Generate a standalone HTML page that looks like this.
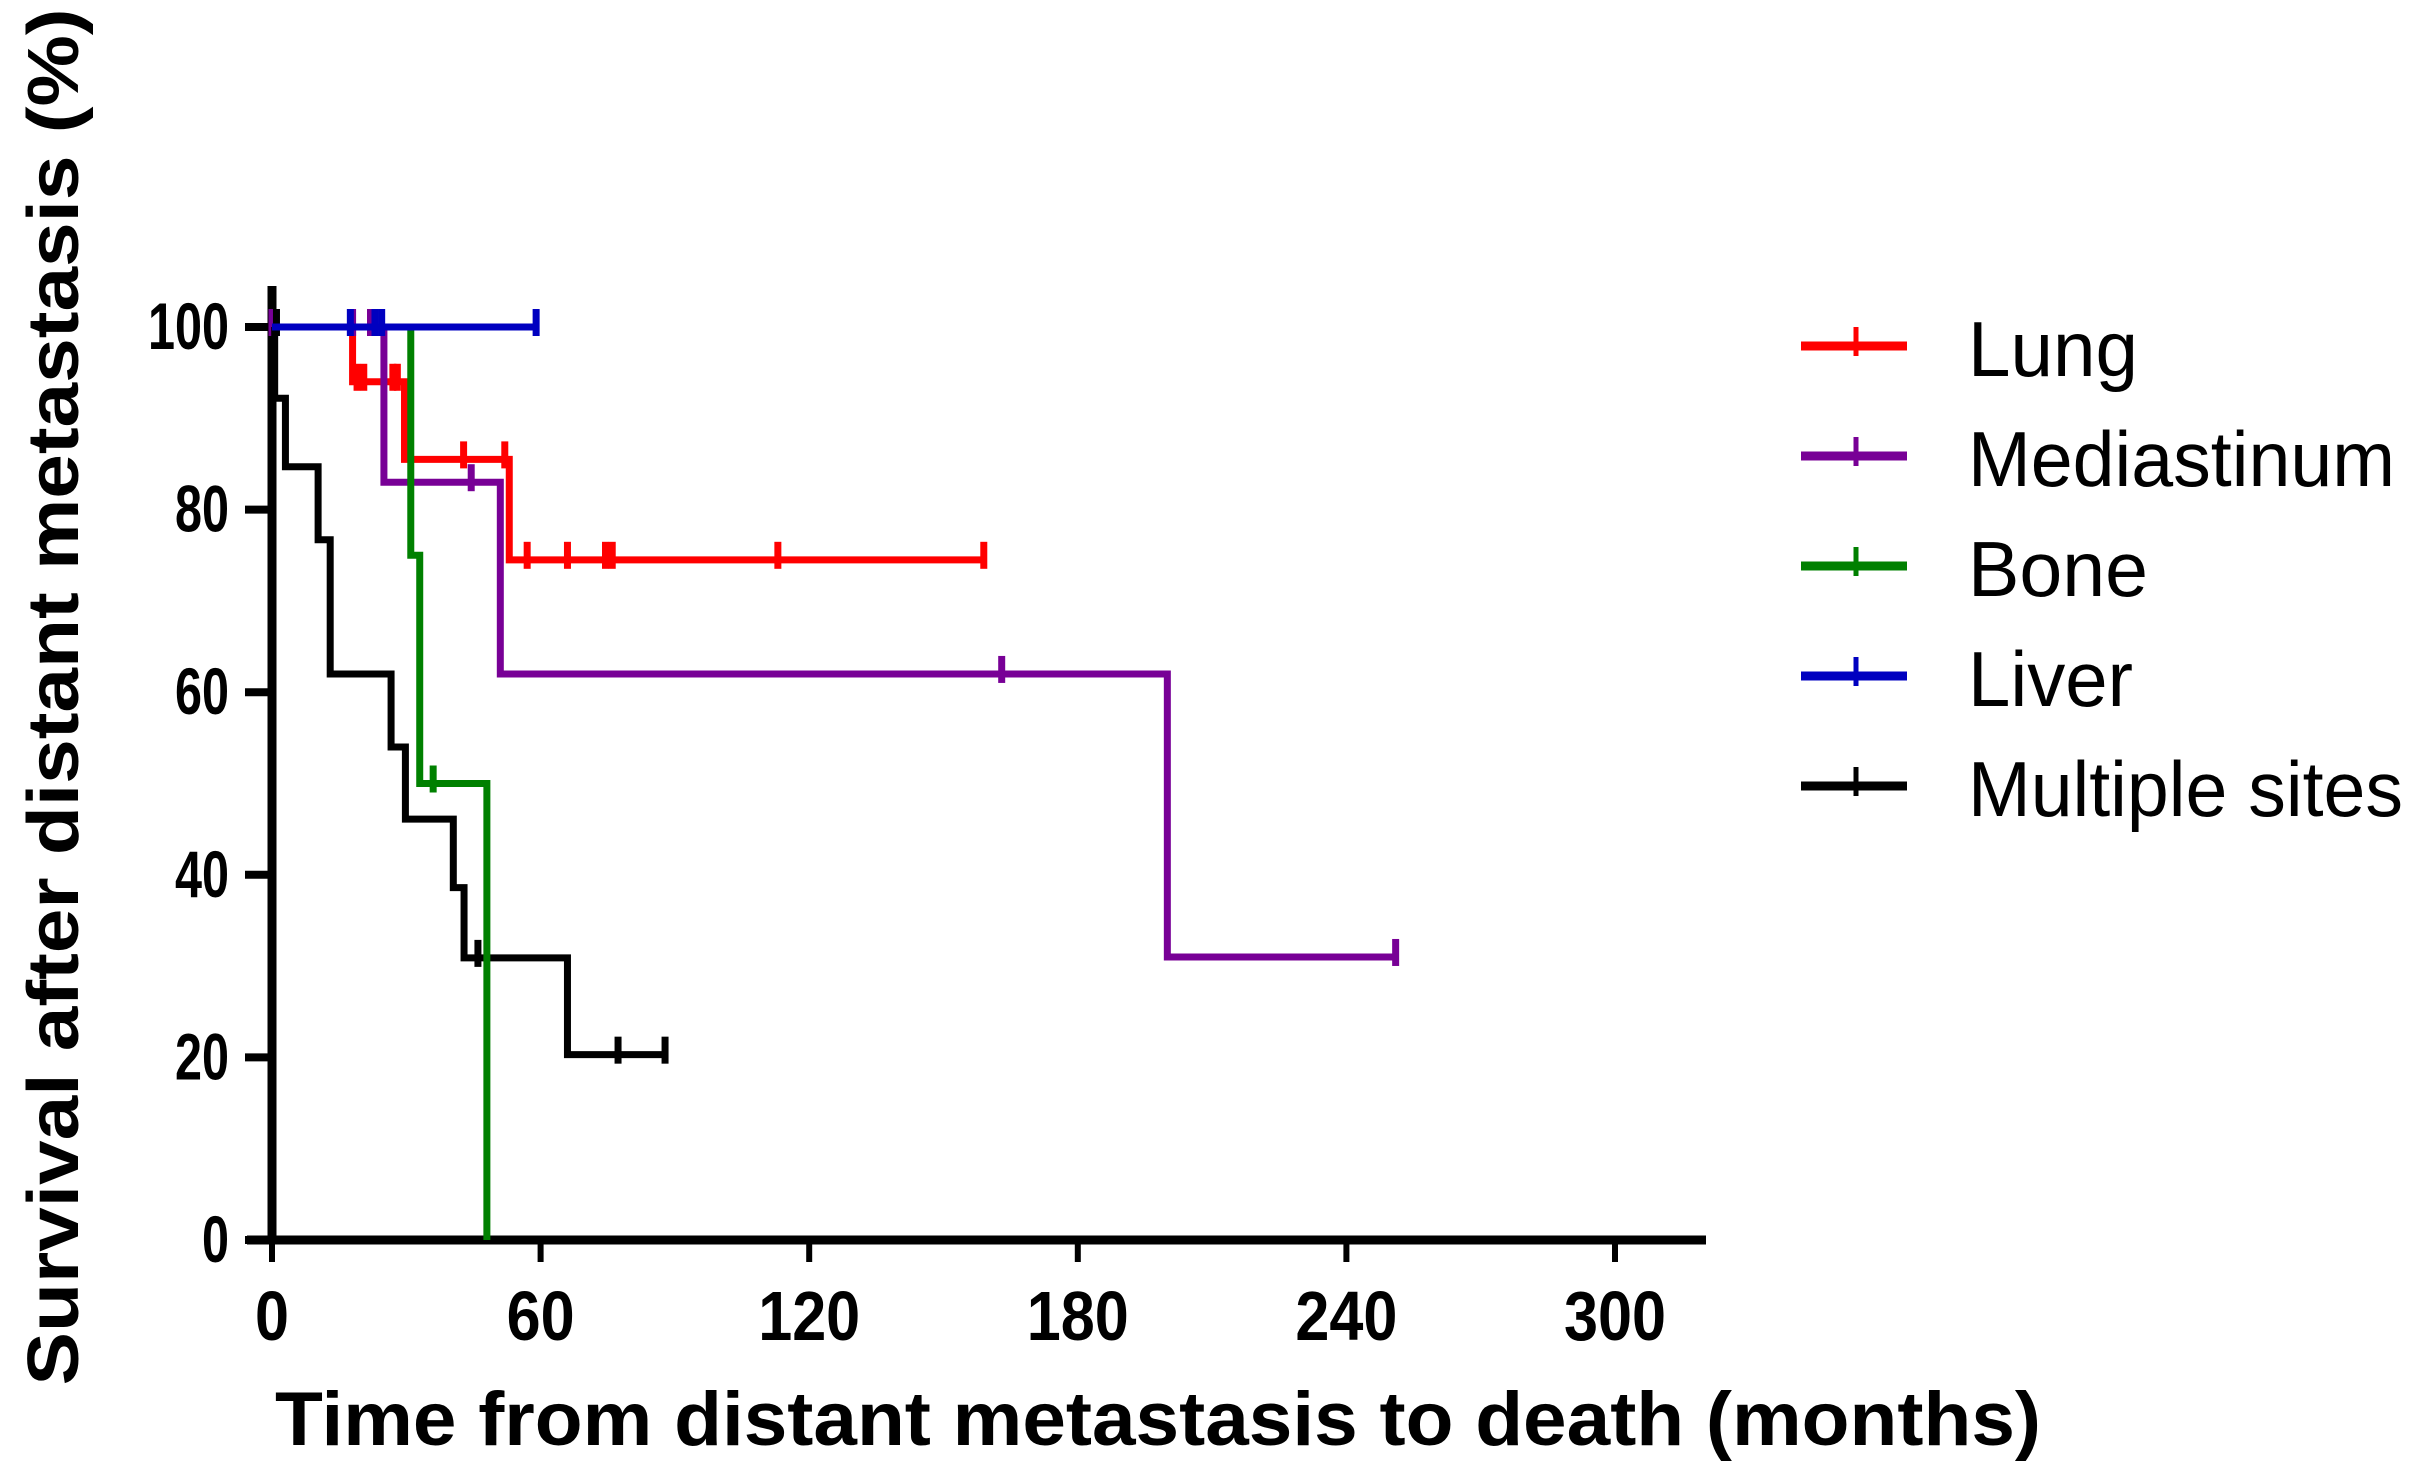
<!DOCTYPE html>
<html><head><meta charset="utf-8"><style>
html,body{margin:0;padding:0;background:#fff;width:2421px;height:1476px;overflow:hidden}
svg{display:block;font-family:"Liberation Sans",Arial,sans-serif}
</style></head><body>
<svg id="chart" width="2421" height="1476" viewBox="0 0 2421 1476" xmlns="http://www.w3.org/2000/svg">
<g id="axes"></g>
<g id="series"></g>
<g id="legend"></g>
<text x="1158" y="1445" text-anchor="middle" font-weight="bold" font-size="76" textLength="1766" lengthAdjust="spacingAndGlyphs">Time from distant metastasis to death (months)</text>
<text transform="translate(78,697) rotate(-90)" text-anchor="middle" font-weight="bold" font-size="72" textLength="1377" lengthAdjust="spacingAndGlyphs">Survival after distant metastasis (%)</text>
</svg>
<script>
const xTicks = [0, 60, 120, 180, 240, 300];
const yTicks = [0, 20, 40, 60, 80, 100];
const seriesNames = ["Lung", "Mediastinum", "Bone", "Liver", "Multiple sites"];
const seriesColors = ["#ff0000", "#780096", "#008000", "#0000c0", "#000000"];
// step curves: [time, survival] change points; last point = end of follow-up
const lungSteps = [[0,100],[18,94],[29.6,85.5],[53,74.5],[159,74.5]];
const lungCensor = [[19,94],[20.5,94],[27,94],[28,94],[42.8,85.5],[52,85.5],[57,74.5],[66,74.5],[74.5,74.5],[76,74.5],[113,74.5],[159,74.5]];
const medSteps = [[0,100],[25,83],[51,62],[200,31],[251,31]];
const medCensor = [[0,100],[18,100],[22,100],[44.5,83],[163,62],[251,31]];
const boneSteps = [[0,100],[31,75],[33,50],[48,0],[48,0]];
const boneCensor = [[36,50]];
const liverSteps = [[0,100],[59,100]];
const liverCensor = [[17.5,100],[23,100],[24.5,100],[59,100]];
const multiSteps = [[0,100],[0.6,92.2],[3,84.7],[10.3,76.7],[13,62],[26.6,54],[29.8,46.1],[40.5,38.6],[42.9,30.9],[66,20.3],[87.8,20.3]];
const multiCensor = [[1,100],[46,30.9],[77.3,20.3],[87.8,20.3]];

const X0=272, X1=1615, Y0=1240, Y1=327;
const xs = m => X0 + (X1-X0)*m/300;
const ys = v => Y0 - (Y0-Y1)*v/100;
const NS="http://www.w3.org/2000/svg";
function mk(tag, attrs, parent){const e=document.createElementNS(NS,tag);for(const k in attrs)e.setAttribute(k,attrs[k]);parent.appendChild(e);return e;}

const axes=document.getElementById('axes');
let e;
e=mk('line',{x1:xs(0),y1:286,x2:xs(0),y2:Y0+4,stroke:'#000','stroke-width':9},axes);


e=mk('line',{x1:247,y1:Y0,x2:1706,y2:Y0,stroke:'#000','stroke-width':9},axes);


xTicks.forEach(t=>{
  const l=mk('line',{x1:xs(t),y1:Y0,x2:xs(t),y2:Y0+22,stroke:'#000','stroke-width':6},axes);
  
  
  const n=String(t).length;
  const tx=mk('text',{x:xs(t),y:1340,'text-anchor':'middle','font-size':70,'font-weight':'bold',textLength:n*34,lengthAdjust:'spacingAndGlyphs'},axes);
  tx.textContent=t;
  
  
});
yTicks.forEach(t=>{
  const l=mk('line',{x1:245,y1:ys(t),x2:xs(0),y2:ys(t),stroke:'#000','stroke-width':8},axes);
  
  
  const n=String(t).length;
  const tx=mk('text',{x:229,y:ys(t)+22,'text-anchor':'end','font-size':66,'font-weight':'bold',textLength:n*27,lengthAdjust:'spacingAndGlyphs'},axes);
  tx.textContent=t;
  
  
});

const sg=document.getElementById('series');
function drawSeries(steps,censor,color,name){
  let d='M'+xs(steps[0][0])+','+ys(steps[0][1]);
  for(let i=1;i<steps.length;i++){
    d+=' H'+xs(steps[i][0])+' V'+ys(steps[i][1]);
  }
  const p=mk('path',{d:d,fill:'none',stroke:color,'stroke-width':7},sg);
  
  
  censor.forEach(c=>{
    const t=mk('line',{x1:xs(c[0]),y1:ys(c[1])-18,x2:xs(c[0]),y2:ys(c[1])+9,stroke:color,'stroke-width':7},sg);
    
    
  });
}
drawSeries(lungSteps,lungCensor,seriesColors[0],'lung');
drawSeries(medSteps,medCensor,seriesColors[1],'mediastinum');
drawSeries(multiSteps,multiCensor,seriesColors[4],'multiple-sites');
drawSeries(boneSteps,boneCensor,seriesColors[2],'bone');
drawSeries(liverSteps,liverCensor,seriesColors[3],'liver');

const lg=document.getElementById('legend');
const rowY=[346,456,566,676,786];
const widths=[170,427,180,165,435];
seriesNames.forEach((n,i)=>{
  const y=rowY[i];
  const l=mk('line',{x1:1801,y1:y,x2:1907,y2:y,stroke:seriesColors[i],'stroke-width':9},lg);
  
  
  const t=mk('line',{x1:1856,y1:y-19,x2:1856,y2:y+10,stroke:seriesColors[i],'stroke-width':5},lg);
  
  
  const tx=mk('text',{x:1968,y:y+30,'font-size':78,textLength:widths[i],lengthAdjust:'spacingAndGlyphs'},lg);
  tx.textContent=n;
  
  
});
</script>
</body></html>
